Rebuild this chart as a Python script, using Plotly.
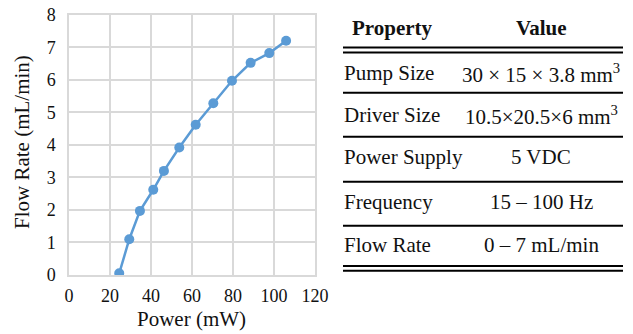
import plotly.graph_objects as go

# Pump characterisation: input power vs. delivered flow rate
power_mw = [24.5, 29.4, 34.6, 41.1, 46.3, 53.8, 61.8, 70.4, 79.5, 88.6, 97.7, 105.9]
flow_ml_min = [0.05, 1.10, 1.97, 2.62, 3.20, 3.92, 4.62, 5.28, 5.97, 6.52, 6.82, 7.20]

x_ticks = [0, 20, 40, 60, 80, 100, 120]
y_ticks = [0, 1, 2, 3, 4, 5, 6, 7, 8]

# Specification table
table_headers = ["Property", "Value"]
table_properties = ["Pump Size", "Driver Size", "Power Supply", "Frequency", "Flow Rate"]
table_values = [
    "30 × 15 × 3.8 mm<sup>3</sup>",
    "10.5×20.5×6 mm<sup>3</sup>",
    "5 VDC",
    "15 – 100 Hz",
    "0 – 7 mL/min",
]

W, H = 633, 334
FONT = "Liberation Serif, Times New Roman, serif"
GRID = "#d9d9d9"
BLUE = "#5b9bd5"
INK = "#111111"


def px_x(p):
    return p / W


def px_y(p):
    return 1 - p / H


fig = go.Figure()
fig.add_trace(go.Scatter(
    x=power_mw, y=flow_ml_min, mode="lines+markers",
    line=dict(color=BLUE, width=2.5),
    marker=dict(color=BLUE, size=10),
    showlegend=False, hoverinfo="skip",
))

axis_common = dict(
    showgrid=True, gridcolor=GRID, gridwidth=1.5,
    showline=True, linecolor=GRID, linewidth=1.5, mirror=True,
    zeroline=False, ticks="",
    tickfont=dict(family=FONT, size=18, color=INK),
)
fig.update_xaxes(range=[0, 120], tickvals=x_ticks, domain=[px_x(69), px_x(315)],
                 ticklabelstandoff=4, **axis_common)
fig.update_yaxes(range=[0, 8], tickvals=y_ticks, domain=[px_y(275), px_y(14.7)],
                 ticklabelstandoff=8, **axis_common)


def label(text, x, y, xanchor="center", size=21, angle=0):
    return dict(text=text, x=px_x(x), y=px_y(y), xref="paper", yref="paper",
                xanchor=xanchor, yanchor="middle", showarrow=False, textangle=angle,
                font=dict(family=FONT, size=size, color=INK))


annotations = [
    label("Power (mW)", 191, 319),
    label("Flow Rate (mL/min)", 22, 142, angle=-90),
    label(f"<b>{table_headers[0]}</b>", 392, 28),
    label(f"<b>{table_headers[1]}</b>", 541, 28),
]

row_centers = [73, 115, 157, 202, 245]
for prop, val, yc in zip(table_properties, table_values, row_centers):
    annotations.append(label(prop, 342, yc, xanchor="left"))
    annotations.append(label(val, 541, yc))

# Table rules: double under header, single between rows, double at bottom
rule_rows = [47.5, 52.5, 92.7, 136.7, 181.7, 225.7, 266, 270.7]
shapes = []
for ry in rule_rows:
    shapes.append(dict(type="line", xref="paper", yref="paper",
                       x0=px_x(343), x1=px_x(623), y0=px_y(ry), y1=px_y(ry),
                       line=dict(color="#000000", width=2)))

fig.update_layout(
    width=W, height=H,
    margin=dict(l=0, r=0, t=0, b=0, autoexpand=False),
    paper_bgcolor="white", plot_bgcolor="white",
    annotations=annotations, shapes=shapes,
)

fig.write_html("out.html")
